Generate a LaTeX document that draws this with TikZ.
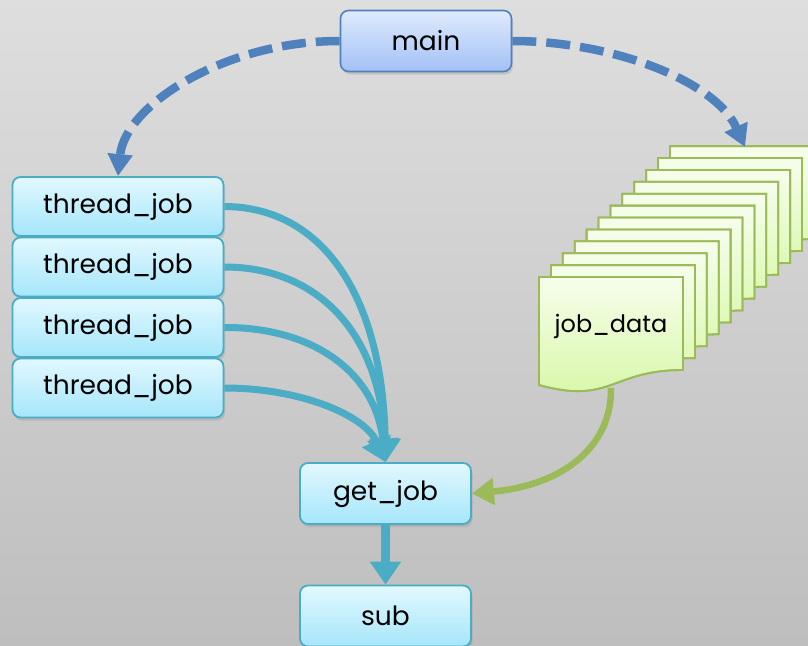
\documentclass[tikz,border=0pt]{standalone}
\usepackage{fontspec}
\setmainfont{Poppins}
\usetikzlibrary{arrows.meta,shadows}
\definecolor{bgtop}{HTML}{DEDEDE}
\definecolor{bgbot}{HTML}{BEBEBE}
\definecolor{mainfilltop}{HTML}{E0EAFD}
\definecolor{mainfillbot}{HTML}{A3C1F5}
\definecolor{mainline}{HTML}{4F81BD}
\definecolor{tealtop}{HTML}{E2F8FF}
\definecolor{tealbot}{HTML}{A5E6FA}
\definecolor{tealline}{HTML}{4BACC6}
\definecolor{docltop}{HTML}{F6FDEC}
\definecolor{doclbot}{HTML}{D6F7A4}
\definecolor{docline}{HTML}{9BBB59}
\tikzset{
  labelfont/.style={font=\fontsize{26.5}{30}\selectfont},
  boxshadow/.style={drop shadow={opacity=0.25,shadow xshift=1.5pt,shadow yshift=-3pt}},
  mainbox/.style={draw=mainline,line width=1.6pt,rounded corners=8pt,
    top color=mainfilltop,bottom color=mainfillbot,boxshadow,
    minimum width=171pt,minimum height=61pt,inner sep=0pt,labelfont},
  tealbox/.style={draw=tealline,line width=1.8pt,rounded corners=8pt,
    top color=tealtop,bottom color=tealbot,boxshadow,
    minimum width=211pt,minimum height=59pt,inner sep=0pt,labelfont},
  docsheet/.style={draw=docline,line width=1.8pt,top color=docltop,bottom color=doclbot},
  tealarrow/.style={draw=tealline,line width=7pt,
    -{Triangle[width=30pt,length=23pt]}},
  dasharrow/.style={draw=mainline,line width=8.5pt,dash pattern=on 24pt off 10pt,
    -{Triangle[width=24pt,length=22pt]}},
  greenarrow/.style={draw=docline,line width=6.5pt,
    -{Triangle[width=26pt,length=22pt]}},
}
\begin{document}
\begin{tikzpicture}[x=1pt,y=-1pt]
% backdrop
\shade[top color=bgtop,bottom color=bgbot] (0,0) rectangle (808,645);
\useasboundingbox (0,0) rectangle (808,645);

% stack of job_data sheets, drawn back to front
\foreach \i in {11,10,...,0}{
  \pgfmathsetmacro{\o}{11.9*\i}
  \begin{scope}[shift={(\o,-\o)}]
    \shade[docsheet] (539,277) -- (683,277) -- (683,370)
      .. controls (611,370) and (611,405) .. (539,385) -- cycle;
    \draw[docline,line width=1.8pt] (539,277) -- (683,277) -- (683,370)
      .. controls (611,370) and (611,405) .. (539,385) -- cycle;
  \end{scope}
}
\node[font=\fontsize{24}{28}\selectfont] (jobdata) at (611,326) {job\_data};
\coordinate (docfoot) at (611,388);
\coordinate (stacktop) at (745,147);

% boxes
\node[mainbox] (main) at (426,41) {main};
\node[tealbox] (tj1) at (118,206.5) {thread\_job};
\node[tealbox] (tj2) at (118,267) {thread\_job};
\node[tealbox] (tj3) at (118,327.5) {thread\_job};
\node[tealbox] (tj4) at (118,388) {thread\_job};
\node[tealbox,minimum width=171pt,minimum height=61pt] (getjob) at (385.5,493.5) {get\_job};
\node[tealbox,minimum width=171pt,minimum height=61pt] (sub) at (385.5,616) {sub};

% connectors
\draw[dasharrow] (main.west) .. controls (225,41) and (125,105) .. (tj1.north);
\draw[dasharrow] (main.east) .. controls (610,41) and (715,80) .. (stacktop);

\draw[tealarrow] (tj1.east) .. controls (325,207) and (383,300) .. (getjob.north);
\draw[tealarrow] (tj2.east) .. controls (315,267) and (380,330) .. (getjob.north);
\draw[tealarrow] (tj3.east) .. controls (310,327) and (375,370) .. (getjob.north);
\draw[tealarrow] (tj4.east) .. controls (300,388) and (365,415) .. (getjob.north);
\draw[tealarrow,line width=8.5pt] (getjob.south) -- (sub.north);

\draw[greenarrow] (docfoot) .. controls (612,445) and (565,485) .. (getjob.east);
\end{tikzpicture}
\end{document}
